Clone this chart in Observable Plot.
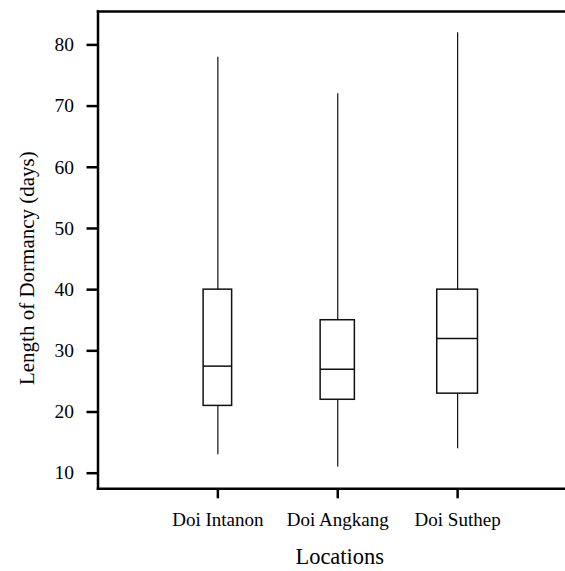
<!DOCTYPE html>
<html>
<head>
<meta charset="utf-8">
<script src="https://cdn.jsdelivr.net/npm/d3@7"></script>
<script src="https://cdn.jsdelivr.net/npm/@observablehq/plot@0.6"></script>
<style>
  html, body { margin: 0; padding: 0; background: white; }
</style>
</head>
<body>
<div id="chart"></div>
<script>
// Data
const locations = ["Doi Intanon", "Doi Angkang", "Doi Suthep"];
const lowerWhisker = [13, 11, 14];
const q1 = [21, 22, 23];
const median = [27.5, 27, 32];
const q3 = [40, 35, 40];
const upperWhisker = [78, 72, 82];
// variable-width boxes (relative to widest)
const relativeBoxWidth = [0.70, 0.84, 1.0];
const yTicks = [10, 20, 30, 40, 50, 60, 70, 80];
const yLabel = "Length of Dormancy (days)";
const xLabel = "Locations";

const rows = locations.map((loc, i) => ({
  loc, pos: i + 1,
  low: lowerWhisker[i], q1: q1[i], med: median[i], q3: q3[i], high: upperWhisker[i],
  w: relativeBoxWidth[i]
}));
const HALF = 0.17;
const SERIF = "Liberation Serif, Times New Roman, serif";

const chart = Plot.plot({
  width: 565,
  height: 571,
  marginLeft: 97.5,
  marginRight: 0,
  marginTop: 11,
  marginBottom: 82.7,
  style: { fontFamily: SERIF, fontSize: "19.5px", background: "white", color: "black" },
  x: { type: "linear", domain: [0, 3.9] },
  y: { domain: [7.45, 85.46] },
  marks: [
    Plot.ruleX(rows, { x: "pos", y1: "low", y2: "q1", stroke: "#111", strokeWidth: 1.2 }),
    Plot.ruleX(rows, { x: "pos", y1: "q3", y2: "high", stroke: "#111", strokeWidth: 1.2 }),
    Plot.rect(rows, { x1: d => d.pos - HALF * d.w, x2: d => d.pos + HALF * d.w, y1: "q1", y2: "q3", fill: "white", stroke: "#111", strokeWidth: 1.5 }),
    Plot.ruleY(rows, { y: "med", x1: d => d.pos - HALF * d.w, x2: d => d.pos + HALF * d.w, stroke: "#111", strokeWidth: 1.5 }),
    Plot.axisY({ ticks: yTicks, tickSize: 11, tickPadding: 13, strokeWidth: 2.5, label: null, fontSize: 19.5, fontFamily: SERIF }),
    Plot.axisX({ ticks: [1, 2, 3], tickFormat: i => locations[i - 1], tickSize: 10, tickPadding: 14, strokeWidth: 2.5, label: null, fontSize: 19, fontFamily: SERIF }),
    Plot.frame({ anchor: "left", strokeWidth: 2.5 }),
    Plot.frame({ anchor: "top", strokeWidth: 2.5 }),
    Plot.frame({ anchor: "bottom", strokeWidth: 2.5 }),
    Plot.text([yLabel], { frameAnchor: "left", textAnchor: "middle", lineAnchor: "middle", rotate: -90, dx: -71, dy: 18, fontSize: 21, fontFamily: SERIF }),
    Plot.text([xLabel], { frameAnchor: "bottom", textAnchor: "middle", lineAnchor: "middle", dx: 8, dy: 68, fontSize: 22.5, fontFamily: SERIF })
  ]
});
document.getElementById("chart").appendChild(chart);
</script>
</body>
</html>
